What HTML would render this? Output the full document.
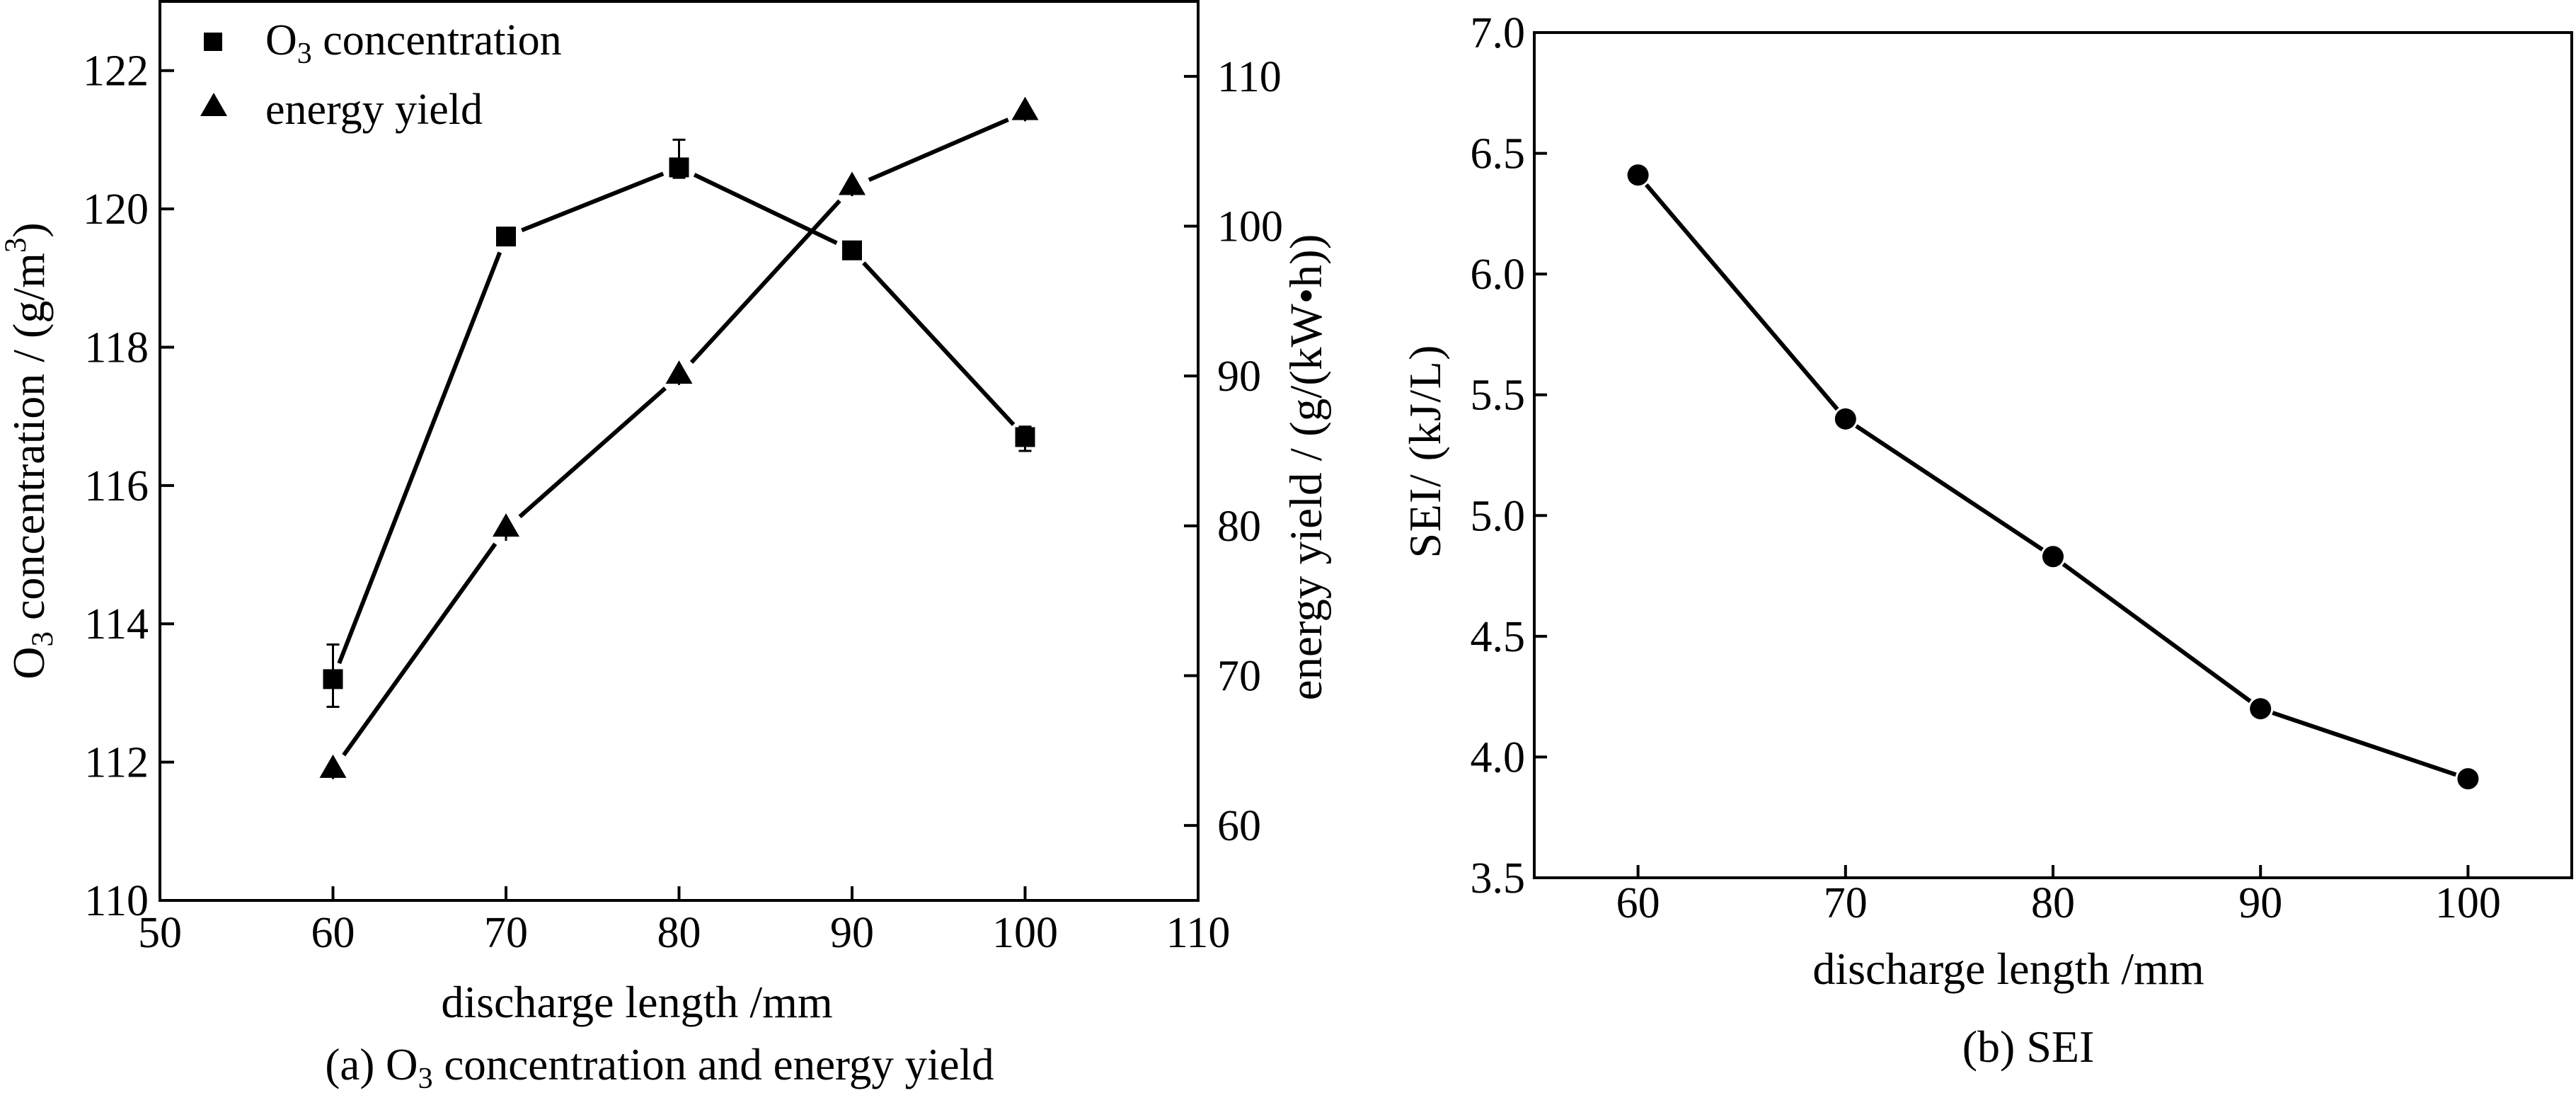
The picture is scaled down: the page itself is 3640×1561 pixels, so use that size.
<!DOCTYPE html>
<html><head><meta charset="utf-8">
<style>
html,body{margin:0;padding:0;background:#fff;}
svg{display:block;font-family:"Liberation Serif",serif;}
</style></head>
<body>
<svg id="fig" width="3640" height="1561" viewBox="0 0 3640 1561">
<g id="chartA"></g>
<g id="chartB"></g>
</svg>
<script>
// ---- data chart (a) ----
const lengthsA = [60, 70, 80, 90, 100];
const o3Values = [113.2, 119.6, 120.6, 119.4, 116.7];
const o3ErrUp = [0.5, 0, 0.4, 0, 0.15];
const o3ErrDown = [0.4, 0, 0.15, 0, 0.2];
const yieldValues = [63.7, 79.8, 90.0, 102.6, 107.6];
const yieldErr = [0.6, 0.8, 0.6, 0.6, 0.6];
const xTicksA = [50, 60, 70, 80, 90, 100, 110];
const leftTicksA = [110, 112, 114, 116, 118, 120, 122];
const rightTicksA = [60, 70, 80, 90, 100, 110];
// ---- data chart (b) ----
const lengthsB = [60, 70, 80, 90, 100];
const seiValues = [6.41, 5.40, 4.83, 4.20, 3.91];
const xTicksB = [60, 70, 80, 90, 100];
const yTicksB = ["3.5", "4.0", "4.5", "5.0", "5.5", "6.0", "6.5", "7.0"];

const NS = "http://www.w3.org/2000/svg";
function mk(parent, tag, attrs, text) {
  const e = document.createElementNS(NS, tag);
  for (const k in attrs) e.setAttribute(k, attrs[k]);
  if (text !== undefined) e.textContent = text;
  parent.appendChild(e);
  return e;
}
function segGap(parent, x1, y1, x2, y2, gap, name) {
  const dx = x2 - x1, dy = y2 - y1, L = Math.hypot(dx, dy);
  const ux = dx / L, uy = dy / L;
  const l = mk(parent, "line", {x1: x1 + ux * gap, y1: y1 + uy * gap, x2: x2 - ux * gap, y2: y2 - uy * gap, stroke: "#000", "stroke-width": 6});
  
  
}

// ================= Chart A =================
const A = document.getElementById("chartA");
const aL = 226, aR = 1693, aT = 2, aB = 1272;
const ax = v => aL + (v - 50) / 60 * (aR - aL);
const ayL = v => aB - (v - 110) / 13 * (aB - aT);
const ayR = v => aB - (v - 55) / 60 * (aB - aT);

const frameA = mk(A, "rect", {x: aL, y: aT, width: aR - aL, height: aB - aT, fill: "none", stroke: "#000", "stroke-width": 4});



xTicksA.forEach(v => {
  const x = ax(v);
  if (v !== 50 && v !== 110) {
    const t = mk(A, "line", {x1: x, y1: aB, x2: x, y2: aB - 20, stroke: "#000", "stroke-width": 4});
    
    
  }
  const lb = mk(A, "text", {x: x, y: 1338, "font-size": 62, "text-anchor": "middle"}, String(v));
  
  
});
leftTicksA.forEach(v => {
  const y = ayL(v);
  if (v !== 110) {
    const t = mk(A, "line", {x1: aL, y1: y, x2: aL + 20, y2: y, stroke: "#000", "stroke-width": 4});
    
    
  }
  const lb = mk(A, "text", {x: 210, y: y + 21, "font-size": 62, "text-anchor": "end"}, String(v));
  
  
});
rightTicksA.forEach(v => {
  const y = ayR(v);
  const t = mk(A, "line", {x1: aR, y1: y, x2: aR - 20, y2: y, stroke: "#000", "stroke-width": 4});
  
  
  const lb = mk(A, "text", {x: 1720, y: y + 21, "font-size": 62, "text-anchor": "start"}, String(v));
  
  
});

// series lines
for (let i = 0; i < lengthsA.length - 1; i++) {
  segGap(A, ax(lengthsA[i]), ayL(o3Values[i]), ax(lengthsA[i + 1]), ayL(o3Values[i + 1]), 24, 'o3-line-segment');
  segGap(A, ax(lengthsA[i]), ayR(yieldValues[i]), ax(lengthsA[i + 1]), ayR(yieldValues[i + 1]), 26, 'yield-line-segment');
}
// error bars + markers
lengthsA.forEach((d, i) => {
  const x = ax(d), y = ayL(o3Values[i]);
  if (o3ErrUp[i] > 0 || o3ErrDown[i] > 0) {
    const yt = ayL(o3Values[i] + o3ErrUp[i]), yb = ayL(o3Values[i] - o3ErrDown[i]);
    const eb = mk(A, "path", {d: `M${x},${yt}V${yb}M${x - 9},${yt}H${x + 9}M${x - 9},${yb}H${x + 9}`, stroke: "#000", "stroke-width": 3, fill: "none"});
    
    
  }
  const sq = mk(A, "rect", {x: x - 14, y: y - 14, width: 28, height: 28, fill: "#000"});
  
  

  const yy = ayR(yieldValues[i]);
  const yb2 = ayR(yieldValues[i] - yieldErr[i]);
  const eb2 = mk(A, "line", {x1: x, y1: yy, x2: x, y2: yb2, stroke: "#000", "stroke-width": 3});
  
  
  const tr = mk(A, "polygon", {points: `${x},${yy - 22} ${x - 19},${yy + 11} ${x + 19},${yy + 11}`, fill: "#000"});
  
  
});

// legend
const lg = mk(A, "g", {});


const lsq = mk(lg, "rect", {x: 288, y: 46, width: 26, height: 26, fill: "#000"});


const lt1 = mk(lg, "text", {x: 375, y: 77, "font-size": 62});


lt1.innerHTML = 'O<tspan font-size="42" dy="12">3</tspan><tspan dy="-12"> concentration</tspan>';
const ltr = mk(lg, "polygon", {points: "302,131 283,164 321,164", fill: "#000"});


const lt2 = mk(lg, "text", {x: 375, y: 175, "font-size": 62}, "energy yield");



// axis titles
const xtA = mk(A, "text", {x: 900, y: 1437, "font-size": 64, "text-anchor": "middle"}, "discharge length /mm");


const ytL = mk(A, "text", {x: 0, y: 0, "font-size": 64, "text-anchor": "middle", transform: "translate(62,637) rotate(-90)"});


ytL.innerHTML = 'O<tspan font-size="43" dy="12">3</tspan><tspan dy="-12"> concentration / (g/m</tspan><tspan font-size="43" dy="-26">3</tspan><tspan dy="26">)</tspan>';
const ytR = mk(A, "text", {x: 0, y: 0, "font-size": 65, "text-anchor": "middle", transform: "translate(1867,660) rotate(-90)"}, "energy yield / (g/(kW\u2022h))");


const capA = mk(A, "text", {x: 932, y: 1525, "font-size": 63, "text-anchor": "middle"});


capA.innerHTML = '(a) O<tspan font-size="42" dy="12">3</tspan><tspan dy="-12"> concentration and energy yield</tspan>';

// ================= Chart B =================
const B = document.getElementById("chartB");
const bL = 2168, bR = 3634, bT = 46, bB = 1240;
const bx = v => bL + (v - 55) / 50 * (bR - bL);
const by = v => bB - (v - 3.5) / 3.5 * (bB - bT);

const frameB = mk(B, "rect", {x: bL, y: bT, width: bR - bL, height: bB - bT, fill: "none", stroke: "#000", "stroke-width": 4});


xTicksB.forEach(v => {
  const x = bx(v);
  const t = mk(B, "line", {x1: x, y1: bB, x2: x, y2: bB - 18, stroke: "#000", "stroke-width": 4});
  
  
  const lb = mk(B, "text", {x: x, y: 1296, "font-size": 62, "text-anchor": "middle"}, String(v));
  
  
});
yTicksB.forEach(s => {
  const y = by(parseFloat(s));
  if (s !== "3.5" && s !== "7.0") {
    const t = mk(B, "line", {x1: bL, y1: y, x2: bL + 18, y2: y, stroke: "#000", "stroke-width": 4});
    
    
  }
  const lb = mk(B, "text", {x: 2155, y: y + 21, "font-size": 62, "text-anchor": "end"}, s);
  
  
});
for (let i = 0; i < lengthsB.length - 1; i++) {
  segGap(B, bx(lengthsB[i]), by(seiValues[i]), bx(lengthsB[i + 1]), by(seiValues[i + 1]), 18, 'sei-line-segment');
}
lengthsB.forEach((d, i) => {
  const c = mk(B, "circle", {cx: bx(d), cy: by(seiValues[i]), r: 15, fill: "#000"});
  
  
});
const xtB = mk(B, "text", {x: 2838, y: 1390, "font-size": 64, "text-anchor": "middle"}, "discharge length /mm");


const ytB = mk(B, "text", {x: 0, y: 0, "font-size": 64, "text-anchor": "middle", textLength: 301, lengthAdjust: "spacing", transform: "translate(2035,638) rotate(-90)"}, "SEI/ (kJ/L)");


const capB = mk(B, "text", {x: 2866, y: 1500, "font-size": 64, "text-anchor": "middle"}, "(b) SEI");


</script>
</body></html>
